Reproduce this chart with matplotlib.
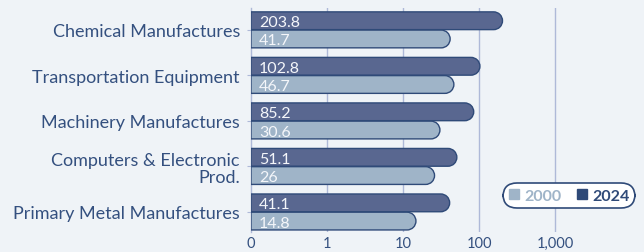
import numpy as np
import matplotlib
matplotlib.use("Agg")
import matplotlib.pyplot as plt
from matplotlib.lines import Line2D
from matplotlib.path import Path
from matplotlib.patheffects import AbstractPathEffect
from matplotlib.transforms import IdentityTransform

plt.rcParams["font.family"] = ["Lato", "DejaVu Sans"]

CATEGORIES = ["Chemical Manufactures", "Transportation Equipment",
              "Machinery Manufactures", "Computers & Electronic\nProd.",
              "Primary Metal Manufactures"]
V2024 = [203.8, 102.8, 85.2, 51.1, 41.1]
V2000 = [41.7, 46.7, 30.6, 26, 14.8]
XTICKS = [0.1, 1, 10, 100, 1000]
XTICKLABELS = ["0", "1", "10", "100", "1,000"]

BG = "#eff3f7"
DARK = "#596790"
LIGHT = "#9fb4c8"
EDGE = "#2f4a78"
TXT = "#34507f"
GRID = "#aeb9d8"


class RoundEnd(AbstractPathEffect):
    """Redraw a bar rectangle with a semicircular right end (display space)."""

    def draw_path(self, renderer, gc, tpath, affine, rgbFace=None):
        pts = affine.transform(tpath.vertices)
        x0, y0 = pts.min(0)
        x1, y1 = pts.max(0)
        r = (y1 - y0) / 2
        arc = Path.arc(-90, 90)
        av = arc.vertices * r + [x1 - r, (y0 + y1) / 2]
        verts = np.vstack([[x0, y0], av, [x0, y1], [x0, y0]])
        codes = ([Path.MOVETO, Path.LINETO] + list(arc.codes[1:])
                 + [Path.LINETO, Path.CLOSEPOLY])
        renderer.draw_path(gc, Path(verts, codes), IdentityTransform(), rgbFace)


W, H = 644, 253
fig = plt.figure(figsize=(W / 100, H / 100), dpi=100, facecolor=BG)
ax = fig.add_axes([251 / W, 20 / H, (620 - 251) / W, 224 / H])
ax.set_facecolor(BG)

xmin = 0.1
y = np.arange(len(CATEGORIES))
h = 0.39
off = 0.2

b24 = ax.barh(y - off, np.array(V2024) - xmin, left=xmin, height=h,
              color=DARK, edgecolor=EDGE, linewidth=1.0, zorder=3)
b00 = ax.barh(y + off, np.array(V2000) - xmin, left=xmin, height=h,
              color=LIGHT, edgecolor=EDGE, linewidth=1.0, zorder=3)
for p in list(b24) + list(b00):
    p.set_path_effects([RoundEnd()])

for yy, v in zip(y - off, V2024):
    ax.text(0.128, yy, f"{v:g}", color="#f4f6fa", fontsize=11.5,
            va="center_baseline", ha="left", zorder=4)
for yy, v in zip(y + off, V2000):
    ax.text(0.128, yy, f"{v:g}", color="#f4f6fa", fontsize=11.5,
            va="center_baseline", ha="left", zorder=4)

ax.set_xscale("log")
ax.set_xlim(xmin, 10 ** (-1 + (620 - 251) / 76))
ax.set_ylim(4.44, -0.48)
ax.set_xticks(XTICKS)
ax.set_xticklabels(XTICKLABELS)
ax.xaxis.set_minor_locator(matplotlib.ticker.NullLocator())
ax.set_yticks(y)
ax.set_yticklabels(CATEGORIES)
ax.tick_params(axis="x", length=0, pad=3, labelsize=10.5, labelcolor=TXT)
ax.tick_params(axis="y", length=3, width=0.8, color=GRID, pad=5,
               labelsize=13, labelcolor=TXT)
for lab in ax.get_yticklabels():
    lab.set_linespacing(1.05)
    lab.set_verticalalignment("center_baseline")

for xv in XTICKS[1:]:
    ax.axvline(xv, color=GRID, lw=1.0, zorder=1)
for s in ["top", "right", "bottom"]:
    ax.spines[s].set_visible(False)
ax.spines["left"].set_color(GRID)
ax.spines["left"].set_linewidth(1.0)

handles = [
    Line2D([0], [0], marker="s", ls="none", color=LIGHT, markersize=7, label="2000"),
    Line2D([0], [0], marker="s", ls="none", color=EDGE, markersize=7, label="2024"),
]
leg = ax.legend(handles=handles, loc="center", bbox_to_anchor=(569 / W, 1 - 196.5 / H),
                bbox_transform=fig.transFigure, ncol=2, frameon=True,
                handlelength=0.7, handletextpad=0.3, columnspacing=0.9,
                borderpad=0.25, labelcolor=[LIGHT, EDGE],
                prop={"weight": "bold", "size": 11.5})
frame = leg.get_frame()
frame.set_boxstyle("round,pad=0.1,rounding_size=0.9")
frame.set_edgecolor(EDGE)
frame.set_facecolor("white")
frame.set_alpha(1)
frame.set_linewidth(1.2)
leg.set_zorder(10)

fig.savefig("out.png", dpi=100, facecolor=BG)
